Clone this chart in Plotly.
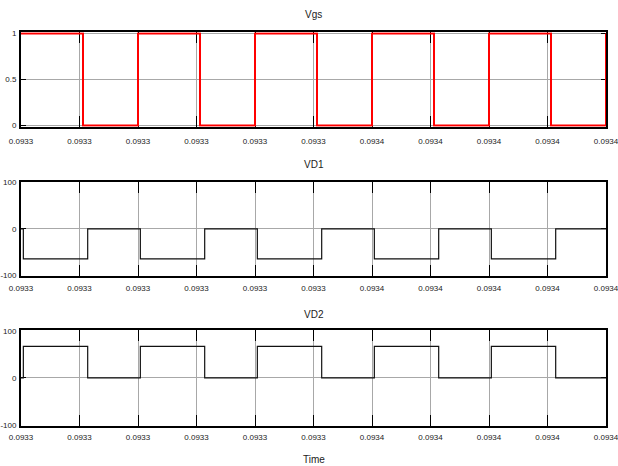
import plotly.graph_objects as go

# ---------------- data ----------------
# x tick positions (s) and their labels as printed on the scope
tick_times = [0.093295, 0.093305, 0.093315, 0.093325, 0.093335, 0.093345,
              0.093355, 0.093365, 0.093375, 0.093385, 0.093395]
tick_labels = ["0.0933", "0.0933", "0.0933", "0.0933", "0.0933", "0.0933",
               "0.0934", "0.0934", "0.0934", "0.0934", "0.0934"]

# Vgs (red gate signal), switching instants, step ("hv") shape
vgs_t = [0.093295, 0.0933056, 0.093315, 0.0933256, 0.093335, 0.0933456,
         0.093355, 0.0933656, 0.093375, 0.0933856, 0.093395]
vgs_v = [1, 0, 1, 0, 1, 0, 1, 0, 1, 0, 1]

# VD1 diode voltage
vd1_t = [0.093295, 0.0932954, 0.0933064, 0.0933154, 0.0933264, 0.0933354,
         0.0933464, 0.0933554, 0.0933664, 0.0933754, 0.0933864, 0.093395]
vd1_v = [0, -65, 0, -65, 0, -65, 0, -65, 0, -65, 0, 0]

# VD2 diode voltage
vd2_t = [0.093295, 0.0932954, 0.0933064, 0.0933154, 0.0933264, 0.0933354,
         0.0933464, 0.0933554, 0.0933664, 0.0933754, 0.0933864, 0.093395]
vd2_v = [0, 67, 0, 67, 0, 67, 0, 67, 0, 67, 0, 0]

titles = ["Vgs", "VD1", "VD2"]
y_ticks = [[0, 0.5, 1], [-100, 0, 100], [-100, 0, 100]]
y_ticktext = [["0", "0.5", "1"], ["-100", "0", "100"], ["-100", "0", "100"]]
y_ranges = [[-0.012, 1.012], [-102, 102], [-102, 102]]

# ---------------- figure ----------------
W, H = 618, 466
FONT = "Liberation Sans, Arial, sans-serif"

x_dom = [21 / W, 606 / W]
y_px = [(32.3, 126.7), (181.7, 276.0), (330.0, 425.7)]
y_doms = [[1 - b / H, 1 - t / H] for t, b in y_px]
x_pad = 1e-11  # tiny pad so the last tick at the right edge is kept

fig = go.Figure()

fig.add_trace(go.Scatter(x=vgs_t, y=vgs_v, mode="lines", line_shape="hv",
                         line=dict(color="#ff0000", width=2),
                         xaxis="x", yaxis="y", showlegend=False))
fig.add_trace(go.Scatter(x=vd1_t, y=vd1_v, mode="lines", line_shape="hv",
                         line=dict(color="#111111", width=1.2),
                         xaxis="x2", yaxis="y2", showlegend=False))
fig.add_trace(go.Scatter(x=vd2_t, y=vd2_v, mode="lines", line_shape="hv",
                         line=dict(color="#111111", width=1.2),
                         xaxis="x3", yaxis="y3", showlegend=False))

layout = dict(width=W, height=H, margin=dict(l=0, r=0, t=0, b=0),
              paper_bgcolor="white", plot_bgcolor="white",
              font=dict(family=FONT, size=8, color="#222222"),
              showlegend=False)

for i in range(3):
    sx = "" if i == 0 else str(i + 1)
    layout["xaxis" + sx] = dict(
        domain=x_dom, anchor="y" + sx,
        range=[tick_times[0] - x_pad, tick_times[-1] + x_pad],
        tickmode="array", tickvals=tick_times, ticktext=tick_labels,
        ticks="inside", ticklen=11, tickwidth=1, tickcolor="#000000",
        showline=True, linecolor="#000000", linewidth=2, mirror="allticks",
        showgrid=True, gridcolor="#a8a8a8", gridwidth=1, zeroline=False,
        layer="below traces", automargin=False, ticklabeloverflow="allow",
        tickfont=dict(family=FONT, size=8, color="#222222"),
        ticklabelstandoff=6 if i == 0 else 3)
    layout["yaxis" + sx] = dict(
        domain=y_doms[i], anchor="x" + sx, range=y_ranges[i],
        tickmode="array", tickvals=y_ticks[i], ticktext=y_ticktext[i],
        ticks="inside", ticklen=5, tickwidth=1, tickcolor="#000000",
        showline=True, linecolor="#000000", linewidth=2, mirror="allticks",
        showgrid=True, gridcolor="#a8a8a8", gridwidth=1, zeroline=False,
        layer="below traces", automargin=False, ticklabeloverflow="allow",
        tickfont=dict(family=FONT, size=8, color="#222222"),
        ticklabelstandoff=1)

fig.update_layout(**layout)

title_y = [14, 165, 314]
for t, yp in zip(titles, title_y):
    fig.add_annotation(text=t, xref="paper", yref="paper",
                       x=(x_dom[0] + x_dom[1]) / 2, y=1 - yp / H,
                       xanchor="center", yanchor="middle", showarrow=False,
                       font=dict(family=FONT, size=10, color="#222222"))
fig.add_annotation(text="Time", xref="paper", yref="paper",
                   x=(x_dom[0] + x_dom[1]) / 2, y=1 - 459 / H,
                   xanchor="center", yanchor="middle", showarrow=False,
                   font=dict(family=FONT, size=10, color="#222222"))

fig.write_html("out.html")
